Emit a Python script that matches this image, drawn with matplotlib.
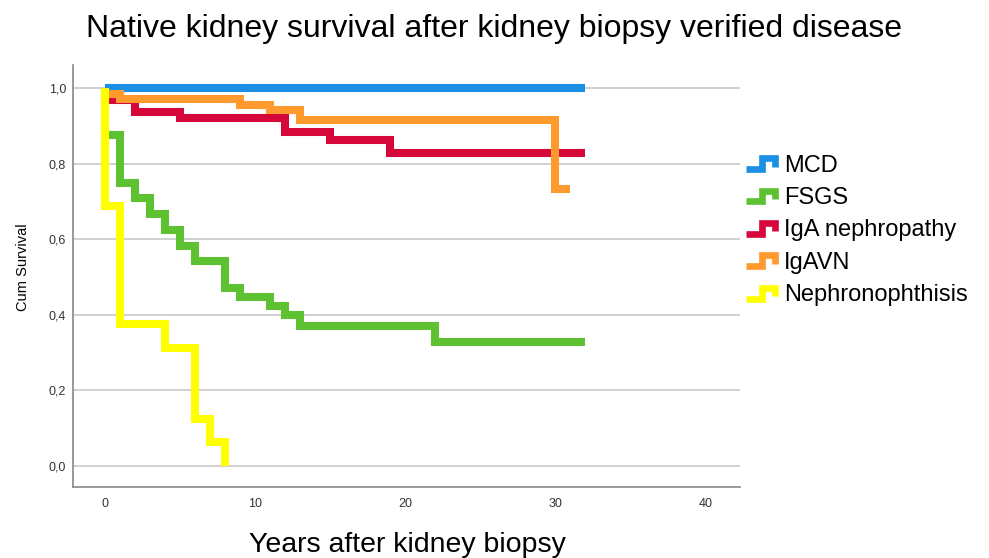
import numpy as np
import matplotlib.pyplot as plt
from matplotlib.legend_handler import HandlerBase
from matplotlib.lines import Line2D
from matplotlib.ticker import FuncFormatter

plt.rcParams['font.family'] = ['Liberation Sans', 'DejaVu Sans']

# Kaplan-Meier step data (time in years, cumulative survival)
groups = ["MCD", "FSGS", "IgA nephropathy", "IgAVN", "Nephronophthisis"]
colors = ["#1A8FE3", "#5DC132", "#D6083B", "#FF9A2E", "#FFFF00"]

mcd_t = [0, 32]
mcd_s = [1.0, 1.0]

fsgs_t = [0, 0, 1, 2, 3, 4, 5, 6, 8, 9, 11, 12, 13, 22, 32]
fsgs_s = [1.0, 0.875, 0.75, 0.708, 0.667, 0.625, 0.583, 0.542, 0.47, 0.448,
          0.423, 0.398, 0.37, 0.329, 0.329]

iga_t = [0, 0, 2, 5, 12, 15, 19, 32]
iga_s = [1.0, 0.968, 0.937, 0.922, 0.884, 0.862, 0.829, 0.829]

igavn_t = [0, 0, 1, 9, 11, 13, 30, 31]
igavn_s = [1.0, 0.985, 0.972, 0.955, 0.942, 0.915, 0.733, 0.733]

neph_t = [0, 0, 1, 4, 6, 7, 8]
neph_s = [1.0, 0.6875, 0.375, 0.3125, 0.125, 0.0625, 0.0]

curves = [(mcd_t, mcd_s), (fsgs_t, fsgs_s), (iga_t, iga_s),
          (igavn_t, igavn_s), (neph_t, neph_s)]

x_ticks = [0, 10, 20, 30, 40]
y_ticks = [0.0, 0.2, 0.4, 0.6, 0.8, 1.0]


class StepHandler(HandlerBase):
    # small step-shaped legend icon like SPSS
    def create_artists(self, legend, orig_handle, xdescent, ydescent,
                       width, height, fontsize, trans):
        w, h = width, height
        xs = np.array([0, 0.5, 0.5, 0.95, 0.95]) * w - xdescent
        ys = np.array([0.15, 0.15, 0.8, 0.8, 0.3]) * h - ydescent
        ln = Line2D(xs, ys, color=orig_handle.get_color(), lw=4.8,
                    solid_joinstyle='miter', solid_capstyle='butt',
                    transform=trans)
        return [ln]


fig = plt.figure(figsize=(9.89, 5.58), dpi=100)
ax = fig.add_axes([0.0738, 0.1272, 0.6745, 0.7563])

handles = []
for (t, s), c, name in zip(curves, colors, groups):
    ln, = ax.step(t, s, where='post', color=c, lw=5.8,
                  solid_joinstyle='miter', solid_capstyle='butt', label=name)
    handles.append(ln)

ax.set_xlim(-2.13, 42.3)
ax.set_ylim(-0.056, 1.061)
ax.set_xticks(x_ticks)
ax.set_yticks(y_ticks)
ax.yaxis.set_major_formatter(FuncFormatter(lambda v, p: f"{v:.1f}".replace('.', ',')))
ax.tick_params(length=0, labelsize=9, colors='#333333')
ax.tick_params(axis='x', pad=8)
ax.tick_params(axis='y', pad=5)
ax.grid(axis='y', color='#c8c8c8', lw=1.2)
ax.set_axisbelow(True)
for sp in ['top', 'right']:
    ax.spines[sp].set_visible(False)
for sp in ['left', 'bottom']:
    ax.spines[sp].set_color('#888888')
    ax.spines[sp].set_linewidth(1.2)

ax.set_ylabel("Cum Survival", fontsize=10.5)
ax.yaxis.set_label_coords(-0.064, 0.52)
fig.text(0.4115, 0.0108, "Years after kidney biopsy", fontsize=20.5,
         ha='center', va='baseline')
fig.text(0.499, 0.9337,
         "Native kidney survival after kidney biopsy verified disease",
         fontsize=23, ha='center', va='baseline')

fig.legend(handles=handles, labels=groups, loc='upper left',
           bbox_to_anchor=(0.745, 0.74), frameon=False, fontsize=17,
           handler_map={Line2D: StepHandler()}, handlelength=1.3,
           handletextpad=0.3, labelspacing=0.44, borderaxespad=0)

fig.savefig("out.png", dpi=100)
